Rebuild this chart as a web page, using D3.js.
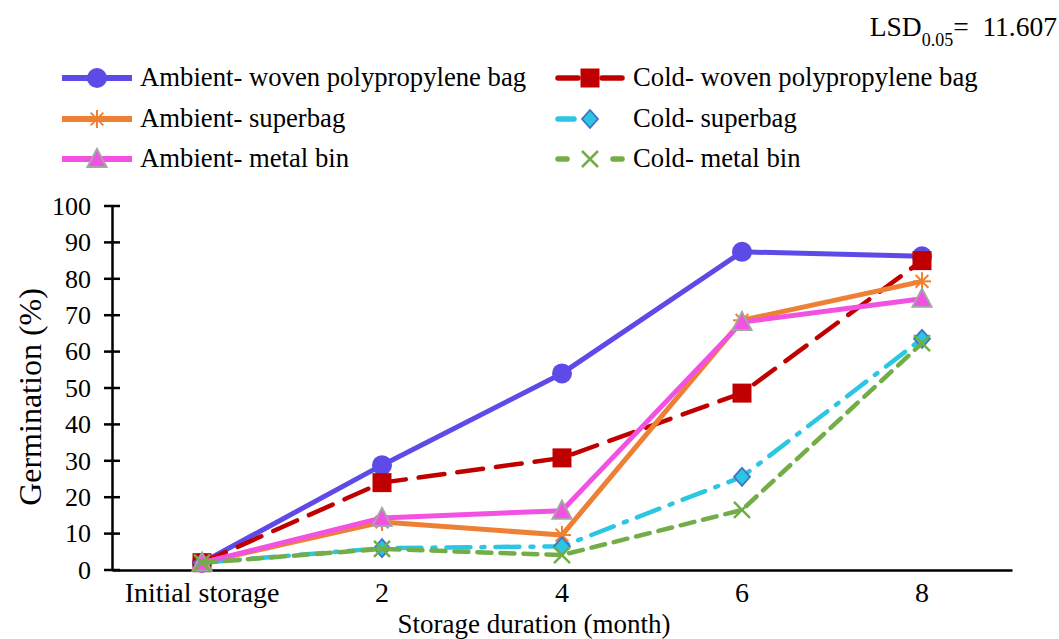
<!DOCTYPE html>
<html>
<head>
<meta charset="utf-8">
<script src="https://cdn.jsdelivr.net/npm/d3@7"></script>
</head>
<body style="margin:0; background:#fff">
<svg id="chart" width="1059" height="639"></svg>
<script>
// Categories and series values
var categories = ["Initial storage", "2", "4", "6", "8"];
var yTicks = [0, 10, 20, 30, 40, 50, 60, 70, 80, 90, 100];

var seriesNames = [
  "Ambient- woven polypropylene bag",
  "Cold- woven polypropylene bag",
  "Ambient- superbag",
  "Cold- superbag",
  "Ambient- metal bin",
  "Cold- metal bin"
];
var ambientWoven = [2, 28.8, 54, 87.4, 86.2];
var coldWoven = [2, 24, 30.8, 48.6, 85];
var ambientSuper = [2, 13.2, 9.6, 68.6, 79.3];
var coldSuper = [2, 6, 6.5, 25.6, 63.5];
var ambientMetal = [2, 14.3, 16.3, 68.1, 74.5];
var coldMetal = [2, 5.8, 4.1, 16.5, 62.3];

var FONT = "'Liberation Serif'";

// Styles per series (same order as seriesNames)
var styles = [
  {values: ambientWoven, color: "#5e4ae6", width: 5, dash: null, marker: "circle"},
  {values: coldWoven, color: "#c00000", width: 4.5, dash: "26,13", marker: "square"},
  {values: ambientSuper, color: "#ee8035", width: 5, dash: null, marker: "asterisk"},
  {values: coldSuper, color: "#2ac6e2", width: 4.5, dash: "24,11,3,11", marker: "diamond"},
  {values: ambientMetal, color: "#f252e2", width: 5, dash: null, marker: "triangle"},
  {values: coldMetal, color: "#72ad47", width: 4.5, dash: "14,9", marker: "x"}
];

var svg = d3.select("#chart");

// Scales
var x = d3.scaleBand().domain(categories).range([112, 1012]);
var y = d3.scaleLinear().domain([0, 100]).range([570, 206]);

// Y axis
svg.append("g")
    .attr("transform", "translate(112,0)")
    .call(d3.axisLeft(y).tickValues(yTicks).tickSize(0).tickPadding(21))
    .call(g => g.select(".domain").attr("stroke", "#000").attr("stroke-width", 2.5))
    .call(g => g.selectAll("text").style("font-family", FONT).attr("font-size", 26).attr("fill", "#000"));

// Y ticks crossing the axis
svg.append("g").selectAll("line")
  .data(yTicks)
  .enter().append("line")
    .attr("x1", 104).attr("x2", 120)
    .attr("y1", d => y(d)).attr("y2", d => y(d))
    .attr("stroke", "#000").attr("stroke-width", 2.5);

// X axis
svg.append("g")
    .attr("transform", "translate(0,570)")
    .call(d3.axisBottom(x).tickSize(0).tickPadding(12).tickSizeOuter(0))
    .call(g => g.select(".domain").attr("stroke", "#000").attr("stroke-width", 2.5))
    .call(g => g.selectAll("text").style("font-family", FONT).attr("font-size", 28).attr("fill", "#000"));

// Axis titles
svg.append("text")
    .style("font-family", FONT)
    .attr("x", 534).attr("y", 633)
    .attr("text-anchor", "middle").attr("font-size", 27)
    .text("Storage duration (month)");

svg.append("text")
    .style("font-family", FONT)
    .attr("transform", "translate(41,397) rotate(-90)")
    .attr("text-anchor", "middle").attr("font-size", 32)
    .text("Germination (%)");

// LSD annotation
var lsd = svg.append("text").style("font-family", FONT)
    .attr("x", 1057).attr("y", 36).attr("text-anchor", "end").attr("font-size", 27.5);
lsd.append("tspan").text("LSD");
lsd.append("tspan").attr("font-size", 18).attr("dy", 10).text("0.05");
lsd.append("tspan").attr("dy", -10).text("=\u00a0 11.607");

// Marker drawing
function drawMarker(g, type, color, cx, cy) {
  if (type === "circle") {
    g.append("circle").attr("cx", cx).attr("cy", cy).attr("r", 10).attr("fill", color);
  } else if (type === "square") {
    g.append("rect").attr("x", cx - 9.5).attr("y", cy - 9.5).attr("width", 19).attr("height", 19)
      .attr("fill", color);
  } else if (type === "asterisk") {
    var r = 9;
    [0, 45, 90, 135].forEach(function(a) {
      var rad = a * Math.PI / 180;
      g.append("line")
        .attr("x1", cx - r * Math.cos(rad)).attr("y1", cy - r * Math.sin(rad))
        .attr("x2", cx + r * Math.cos(rad)).attr("y2", cy + r * Math.sin(rad))
        .attr("stroke", color).attr("stroke-width", 2);
    });
  } else if (type === "diamond") {
    g.append("path")
      .attr("d", "M" + cx + "," + (cy - 9) + "L" + (cx + 8) + "," + cy + "L" + cx + "," + (cy + 9) + "L" + (cx - 8) + "," + cy + "Z")
      .attr("fill", color).attr("stroke", "#4472c4").attr("stroke-width", 1.8);
  } else if (type === "triangle") {
    g.append("path")
      .attr("d", "M" + cx + "," + (cy - 10) + "L" + (cx + 9.5) + "," + (cy + 8) + "L" + (cx - 9.5) + "," + (cy + 8) + "Z")
      .attr("fill", color).attr("stroke", "#a5a5a5").attr("stroke-width", 2);
  } else if (type === "x") {
    var s = 8;
    g.append("path")
      .attr("d", "M" + (cx - s) + "," + (cy - s) + "L" + (cx + s) + "," + (cy + s) + "M" + (cx + s) + "," + (cy - s) + "L" + (cx - s) + "," + (cy + s))
      .attr("stroke", color).attr("stroke-width", 2.5);
  }
}

// Lines and markers
var line = d3.line()
    .x((d, i) => x(categories[i]) + x.bandwidth() / 2)
    .y(d => y(d));

styles.forEach(function(s) {
  var g = svg.append("g");
  g.append("path")
    .attr("d", line(s.values))
    .attr("fill", "none")
    .attr("stroke", s.color)
    .attr("stroke-width", s.width)
    .attr("stroke-linecap", s.dash ? "round" : "butt")
    .attr("stroke-linejoin", "round")
    .attr("stroke-dasharray", s.dash);
  s.values.forEach(function(v, i) {
    drawMarker(g, s.marker, s.color, x(categories[i]) + x.bandwidth() / 2, y(v));
  });
});

// Legend
var legendPos = [
  {x: 62, y: 78}, {x: 555, y: 78},
  {x: 62, y: 119}, {x: 555, y: 119},
  {x: 62, y: 159}, {x: 555, y: 159}
];
styles.forEach(function(s, i) {
  var p = legendPos[i];
  var g = svg.append("g");
  if (!s.dash) {
    g.append("line")
      .attr("x1", p.x).attr("x2", p.x + 70)
      .attr("y1", p.y).attr("y2", p.y)
      .attr("stroke", s.color).attr("stroke-width", s.width + 1);
  } else {
    // dashed legend samples: pieces either side of the marker
    var segs = i === 1 ? [[3, 23], [47, 67]] : i === 3 ? [[3, 19]] : [[3, 12], [58, 67]];
    segs.forEach(function(sg) {
      g.append("line")
        .attr("x1", p.x + sg[0]).attr("x2", p.x + sg[1])
        .attr("y1", p.y).attr("y2", p.y)
        .attr("stroke", s.color).attr("stroke-width", s.width + 1)
        .attr("stroke-linecap", "round");
    });
  }
  drawMarker(g, s.marker, s.color, p.x + 35, p.y);
  g.append("text")
    .style("font-family", FONT)
    .attr("x", p.x + 78).attr("y", p.y + 8)
    .attr("font-size", 26.7)
    .text(seriesNames[i]);
});
</script>
</body>
</html>
